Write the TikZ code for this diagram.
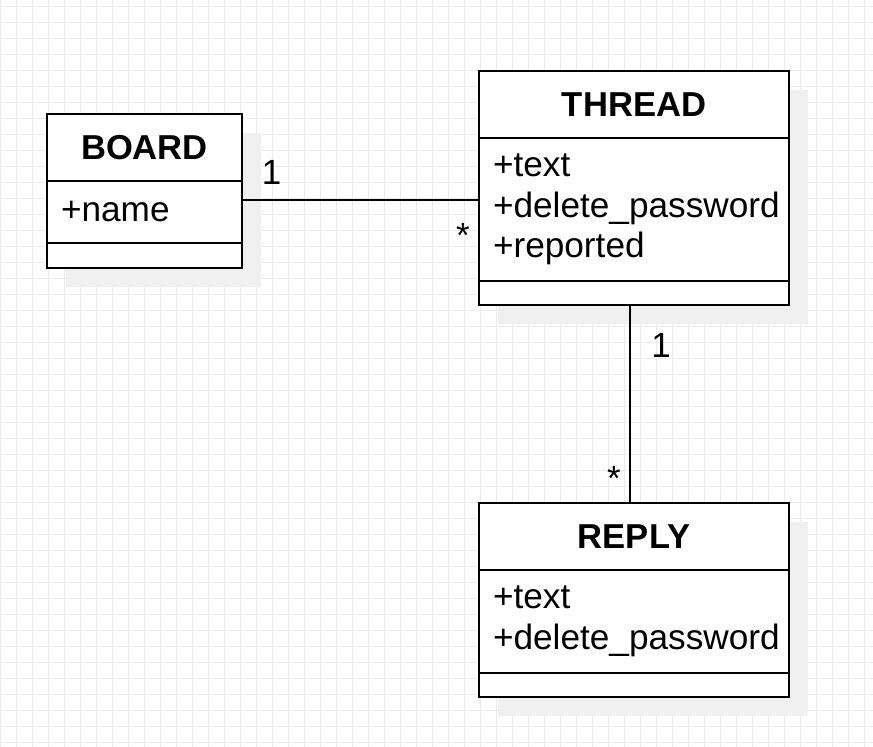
\documentclass[tikz,border=0pt]{standalone}
\usepackage{fontspec}
\setmainfont{Liberation Sans}
\usetikzlibrary{positioning}
\pgfdeclarelayer{umlbg}
\pgfsetlayers{umlbg,main}
\definecolor{gridgray}{HTML}{EBEBEB}
\definecolor{shadegray}{HTML}{F0F0F0}

\tikzset{
	classpart/.style={draw, line width=2.7pt, fill=white, outer sep=0pt, inner sep=0pt, minimum width=#1},
	classhead/.style={classpart=#1, minimum height=67pt, font=\fontsize{34.6}{40}\selectfont\bfseries},
	classattr/.style={classpart=#1, inner xsep=14pt, text width=#1-28pt, align=left, font=\fontsize{35.2}{40.5}\selectfont},
	classops/.style={classpart=#1, minimum height=24pt},
	assoc/.style={line width=2.6pt},
	mult/.style={inner sep=0pt, font=\fontsize{35}{40}\selectfont},
	gridline/.style={gridgray, line width=1pt}
}

\begin{document}
\begin{tikzpicture}[x=1pt, y=-1pt]
	\useasboundingbox (0,0) rectangle (873,747);
	
	\node [classhead=195pt, anchor=north west] at (47,114) (board) {BOARD};
	\node [classattr=195pt, minimum height=62pt, below=0pt of board] (boardattr) {+name};
	\node [classops=195pt, minimum height=25pt, below=0pt of boardattr] (boardops) {};
	
	\node [classhead=310pt, anchor=north west] at (479,71) (thread) {THREAD};
	\node [classattr=310pt, minimum height=143pt, below=0pt of thread] (threadattr) {+text\\+delete\_password\\+reported};
	\node [classops=310pt, below=0pt of threadattr] (threadops) {};
	
	\node [classhead=310pt, anchor=north west] at (479,503) (reply) {REPLY};
	\node [classattr=310pt, minimum height=103pt, below=0pt of reply] (replyattr) {+text\\+delete\_password};
	\node [classops=310pt, below=0pt of replyattr] (replyops) {};
	
	\coordinate (boardend) at ([yshift=12pt]boardattr.east);
	\coordinate (threadend) at ([xshift=-4pt]threadops.south);
	\draw [assoc] (boardend) -- (boardend -| threadattr.west);
	\draw [assoc] (threadend) -- (threadend |- reply.north);
	
	\node [mult, anchor=base] at (271.5,184) (boardone) {1};
	\node [mult, anchor=base] at (463,247) (threadmany) {*};
	\node [mult, anchor=base] at (661,357) (threadone) {1};
	\node [mult, anchor=base] at (614,490) (replymany) {*};
	
	\begin{pgfonlayer}{umlbg}
		\fill [white] (0,0) rectangle (873,747);
		\foreach \gx in {0,...,54} \draw [gridline] (0.3+16*\gx,0) -- (0.3+16*\gx,747);
		\foreach \gy in {0,...,46} \draw [gridline] (0,6+16*\gy) -- (873,6+16*\gy);
		\fill [shadegray] ([shift={(19,19)}]board.north west) rectangle ([shift={(19,19)}]boardops.south east);
		\fill [shadegray] ([shift={(19,19)}]thread.north west) rectangle ([shift={(19,19)}]threadops.south east);
		\fill [shadegray] ([shift={(19,19)}]reply.north west) rectangle ([shift={(19,19)}]replyops.south east);
	\end{pgfonlayer}
\end{tikzpicture}
\end{document}
